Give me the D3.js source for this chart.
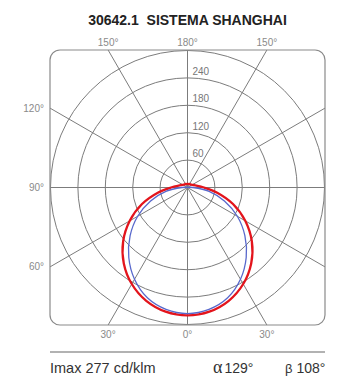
<!DOCTYPE html>
<html>
<head>
<meta charset="utf-8">
<script src="https://cdn.jsdelivr.net/npm/d3@7"></script>
<style>
  html, body { margin: 0; padding: 0; background: #fff; }
  svg { display: block; }
</style>
</head>
<body>
<svg id="chart" width="350" height="380"></svg>
<script>
// ---- data ----
const title = "30642.1\u00a0\u00a0SISTEMA SHANGHAI";
const angles = [0, 10, 20, 30, 40, 50, 60, 70, 80, 90, 100, 110, 120, 130, 140, 150, 160, 170, 180];
const redValues  = [280, 276, 264, 244, 217, 184, 146, 106, 66, 36, 22, 15, 12, 10, 9, 9, 8, 8, 8];
const blueValues = [276, 271, 257, 232, 200, 164, 126, 86, 48, 12, 3, 1, 0, 0, 0, 0, 0, 0, 0];
const ringValues = [60, 120, 180, 240, 300];
const ringLabels = ["60", "120", "180", "240"];
const gridAngles = [0, 30, 60, 90, 120, 150, 180];
const topLabels = ["150°", "180°", "150°"];
const leftLabels = ["120°", "90°", "60°"];
const bottomLabels = ["30°", "0°", "30°"];
const footer = { imax: "Imax 277 cd/klm", alpha: "129°", beta: "108°" };

// ---- layout ----
const svg = d3.select("#chart");
const cx = 187.5, cy = 187.5, H = 137.5;
const r = d3.scaleLinear().domain([0, 300]).range([0, 137]);
const toRad = d => d * Math.PI / 180;
const fontFam = "'Liberation Sans', Arial, sans-serif";

svg.append("text")
  .attr("x", cx).attr("y", 25)
  .attr("text-anchor", "middle")
  .attr("font-family", fontFam)
  .attr("font-weight", "bold")
  .attr("font-size", 14)
  .attr("fill", "#222")
  .text(title);

const defs = svg.append("defs");
defs.append("clipPath").attr("id", "frameClip")
  .append("rect")
  .attr("x", cx - H).attr("y", cy - H)
  .attr("width", 2 * H).attr("height", 2 * H)
  .attr("rx", 10);

const g = svg.append("g").attr("clip-path", "url(#frameClip)");

// rings
g.selectAll("circle.ring").data(ringValues).join("circle")
  .attr("class", "ring")
  .attr("cx", cx).attr("cy", cy)
  .attr("r", d => r(d))
  .attr("fill", "none")
  .attr("stroke", "#7c7c7c")
  .attr("stroke-width", 1);

// radial lines (angle measured from downward direction), both sides
function frameHit(aDeg, side) {
  const s = Math.sin(toRad(aDeg)) * side, c = Math.cos(toRad(aDeg));
  const t = H / Math.max(Math.abs(s), Math.abs(c));
  return [cx + s * t, cy + c * t];
}
const radials = [];
gridAngles.forEach(a => { radials.push([a, 1]); if (a !== 0 && a !== 180) radials.push([a, -1]); });
g.selectAll("line.radial").data(radials).join("line")
  .attr("class", "radial")
  .attr("x1", cx).attr("y1", cy)
  .attr("x2", d => frameHit(d[0], d[1])[0])
  .attr("y2", d => frameHit(d[0], d[1])[1])
  .attr("stroke", "#7c7c7c")
  .attr("stroke-width", 1);

// frame
svg.append("rect")
  .attr("x", cx - H).attr("y", cy - H)
  .attr("width", 2 * H).attr("height", 2 * H)
  .attr("rx", 10)
  .attr("fill", "none")
  .attr("stroke", "#8a8a8a")
  .attr("stroke-width", 1.2);

// ring labels
svg.selectAll("text.ringLabel").data(ringLabels).join("text")
  .attr("class", "ringLabel")
  .attr("x", cx + 5)
  .attr("y", d => cy - r(+d) - 3)
  .attr("font-family", fontFam)
  .attr("font-size", 10)
  .attr("fill", "#777")
  .text(d => d);

// curves
function polarPoints(vals) {
  const pts = [];
  angles.forEach((a, i) => pts.push([Math.PI - toRad(a), r(vals[i])]));
  for (let i = angles.length - 2; i >= 1; i--) pts.push([Math.PI + toRad(angles[i]), r(vals[i])]);
  return pts;
}
const radial = d3.lineRadial()
  .angle(d => d[0]).radius(d => d[1])
  .curve(d3.curveCatmullRomClosed.alpha(0.5));

const curves = svg.append("g").attr("transform", `translate(${cx},${cy})`);
curves.append("path")
  .attr("d", radial(polarPoints(redValues)))
  .attr("fill", "none")
  .attr("stroke", "#e3141c")
  .attr("stroke-width", 2.3);
curves.append("path")
  .attr("d", radial(polarPoints(blueValues)))
  .attr("fill", "none")
  .attr("stroke", "#5868cc")
  .attr("stroke-width", 1.3);

// angle labels
const labStyle = sel => sel.attr("font-family", fontFam).attr("font-size", 10).attr("fill", "#8a8a8a");
[150, 180, 150].forEach((a, i) => {
  const side = i === 0 ? -1 : 1;
  const p = frameHit(a, side);
  svg.append("text").attr("x", p[0]).attr("y", cy - H - 4)
    .attr("text-anchor", "middle").call(labStyle).text(topLabels[i]);
});
[30, 0, 30].forEach((a, i) => {
  const side = i === 0 ? -1 : 1;
  const p = frameHit(a, side);
  svg.append("text").attr("x", p[0]).attr("y", cy + H + 13)
    .attr("text-anchor", "middle").call(labStyle).text(bottomLabels[i]);
});
[120, 90, 60].forEach((a, i) => {
  const p = frameHit(a, -1);
  svg.append("text").attr("x", cx - H - 6).attr("y", p[1] + 3.5)
    .attr("text-anchor", "end").call(labStyle).text(leftLabels[i]);
});

// footer
svg.append("line")
  .attr("x1", cx - H).attr("x2", cx + H)
  .attr("y1", 352).attr("y2", 352)
  .attr("stroke", "#999").attr("stroke-width", 1.3);
const foot = sel => sel.attr("font-family", fontFam).attr("font-size", 14.5).attr("fill", "#333");
svg.append("text").attr("x", cx - H).attr("y", 373).call(foot).text(footer.imax);
const at = svg.append("text").attr("x", 213).attr("y", 373).call(foot);
at.append("tspan").attr("font-family", "'Liberation Serif', serif").attr("font-size", 18).text("α");
at.append("tspan").attr("dx", 2).attr("font-size", 14).text(footer.alpha);
const bt = svg.append("text").attr("x", 285).attr("y", 373).call(foot);
bt.append("tspan").attr("font-size", 13).text("β");
bt.append("tspan").attr("dx", 4).attr("font-size", 14).text(footer.beta);
</script>
</body>
</html>
